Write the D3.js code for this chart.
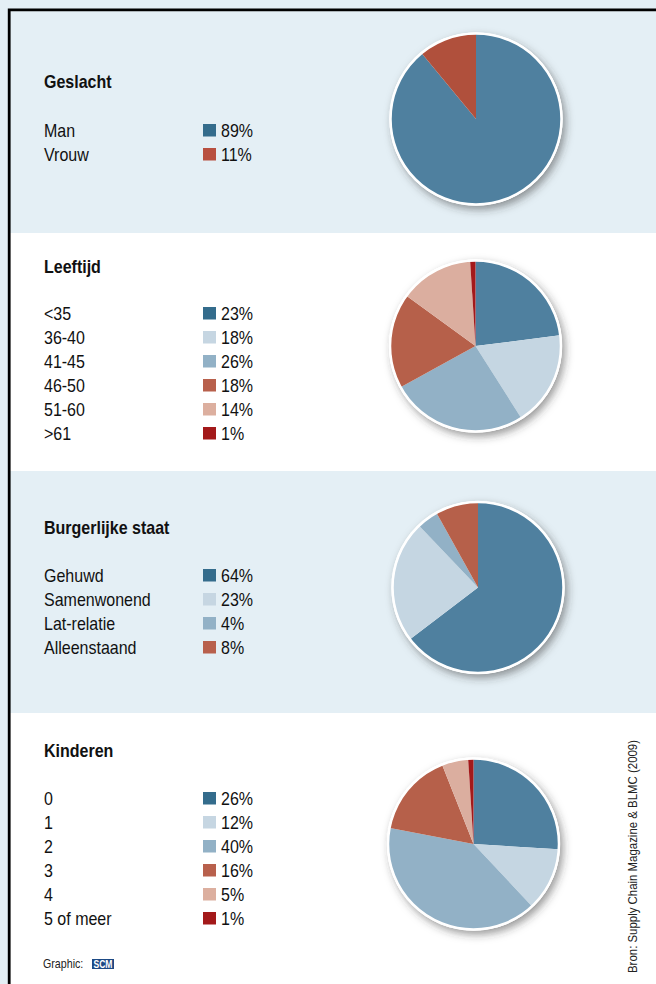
<!DOCTYPE html>
<html><head><meta charset="utf-8">
<script src="https://cdn.jsdelivr.net/npm/d3@7"></script>
<style>html,body{margin:0;padding:0;background:#e4eff5;}svg{display:block;}</style>
</head><body><svg id="c" width="656" height="984"></svg>
<script>
// ---- data ----
const titles = ["Geslacht", "Leeftijd", "Burgerlijke staat", "Kinderen"];
const geslachtLabels = ["Man", "Vrouw"];
const geslachtValues = [89, 11];
const leeftijdLabels = ["<35", "36-40", "41-45", "46-50", "51-60", ">61"];
const leeftijdValues = [23, 18, 26, 18, 14, 1];
const staatLabels = ["Gehuwd", "Samenwonend", "Lat-relatie", "Alleenstaand"];
const staatValues = [64, 23, 4, 8];
const kinderenLabels = ["0", "1", "2", "3", "4", "5 of meer"];
const kinderenValues = [26, 12, 40, 16, 5, 1];
const source = "Bron: Supply Chain Magazine & BLMC (2009)";

// ---- styling ----
const pieCols = ["#4f809f", "#c5d6e2", "#92b1c6", "#b6604a", "#dbae9f", "#a3191a"];
const keyCols = ["#346c8c", "#c6d6e2", "#92b1c6", "#b8604c", "#dcaf9f", "#a3191a"];
const FONT = "'Liberation Sans',Arial,sans-serif";
const SX = 0.89; // condensed look

const panels = [
  {labels: geslachtLabels, values: geslachtValues, top: 11, bottom: 233, bg: "#e4eff5",
   titleY: 88, rowY: 137, cx: 476, cy: 119,
   pie: ["#4f809f", "#b0503c"], key: ["#346c8c", "#b85040"]},
  {labels: leeftijdLabels, values: leeftijdValues, top: 233, bottom: 471, bg: "#ffffff",
   titleY: 273, rowY: 320, cx: 475.5, cy: 346, pie: pieCols, key: keyCols},
  {labels: staatLabels, values: staatValues, top: 471, bottom: 713, bg: "#e4eff5",
   titleY: 534, rowY: 582, cx: 478, cy: 587.5, pie: pieCols, key: keyCols},
  {labels: kinderenLabels, values: kinderenValues, top: 713, bottom: 984, bg: "#ffffff",
   titleY: 757, rowY: 805, cx: 473.5, cy: 844, pie: pieCols, key: keyCols}
];

const svg = d3.select("#c");
const defs = svg.append("defs");
const f = defs.append("filter").attr("id", "sh").attr("x", "-20%").attr("y", "-20%").attr("width", "150%").attr("height", "150%");
f.append("feDropShadow").attr("dx", 3).attr("dy", 4).attr("stdDeviation", 4.5)
  .attr("flood-color", "#333").attr("flood-opacity", 0.5);

svg.append("rect").attr("width", 656).attr("height", 984).attr("fill", "#e4eff5");

const R = 85;
const rowStep = 24;
const pie = d3.pie().sort(null).value(d => d);
const arc = d3.arc().innerRadius(0).outerRadius(R);

function txt(sel, x, y, s, size, bold) {
  return sel.append("text").attr("transform", `translate(${x},${y}) scale(${SX},1)`)
    .attr("font-family", FONT).attr("font-size", size).attr("font-weight", bold ? "bold" : "normal")
    .attr("fill", "#111").text(s);
}

panels.forEach((p, i) => {
  svg.append("rect").attr("x", 10).attr("y", p.top).attr("width", 646)
    .attr("height", p.bottom - p.top).attr("fill", p.bg);
  txt(svg, 44, p.titleY, titles[i], 18, true);

  const y = d3.scaleLinear().domain([0, 1]).range([p.rowY, p.rowY + rowStep]);
  const rows = svg.append("g");
  p.labels.forEach((lab, j) => {
    txt(rows, 44, y(j), lab, 18, false);
    rows.append("rect").attr("x", 203).attr("y", y(j) - 13).attr("width", 13).attr("height", 12.5)
      .attr("fill", p.key[j]);
    txt(rows, 221, y(j), p.values[j] + "%", 18, false);
  });

  const g = svg.append("g").attr("transform", `translate(${p.cx},${p.cy})`);
  g.append("circle").attr("r", R + 1.5).attr("fill", "#fff").attr("filter", "url(#sh)");
  g.selectAll("path").data(pie(p.values)).join("path")
    .attr("d", arc).attr("fill", (d, j) => p.pie[j]);
  g.append("circle").attr("r", R + 0.5).attr("fill", "none").attr("stroke", "#fff").attr("stroke-width", 2.5);
});

// border (top + left)
svg.append("path").attr("d", "M9.2,984 V9.8 H656").attr("fill", "none")
  .attr("stroke", "#000").attr("stroke-width", 2.8);

// footer
const gf = svg.append("g");
txt(gf, 43, 968, "Graphic:", 12, false).attr("fill", "#222");
gf.append("rect").attr("x", 92).attr("y", 959).attr("width", 22).attr("height", 10).attr("fill", "#1d4a85");
gf.append("text").attr("x", 103).attr("y", 968).attr("text-anchor", "middle").attr("font-family", FONT)
  .attr("font-weight", "bold").attr("font-size", 10.5).attr("fill", "#fff")
  .attr("textLength", 19).attr("lengthAdjust", "spacingAndGlyphs").text("SCM");

svg.append("text").attr("transform", "translate(637,973) rotate(-90)")
  .attr("font-family", FONT).attr("font-size", 13).attr("fill", "#222").attr("textLength", 233)
  .attr("lengthAdjust", "spacingAndGlyphs").text(source);
</script>
</body></html>
